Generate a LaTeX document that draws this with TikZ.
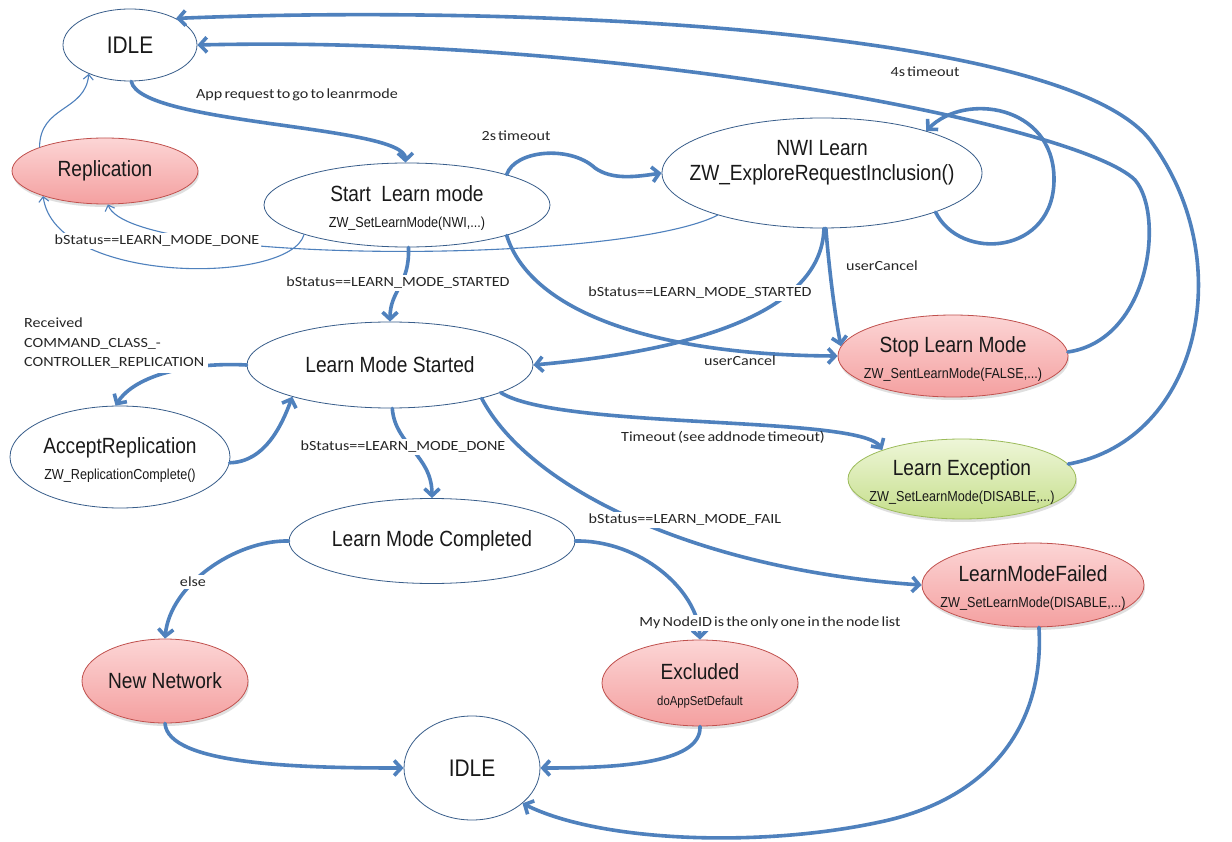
\documentclass[tikz,border=0pt]{standalone}
\usepackage{fontspec}
\setmainfont{Liberation Sans}
\newfontfamily\statefont[FakeStretch=0.87]{Liberation Sans}
\newfontfamily\labelfont[FakeStretch=1.15,WordSpace=0.6]{Carlito}
\usetikzlibrary{shapes.geometric,arrows.meta,shadows}

\definecolor{edgeblue}{HTML}{4F81BD}
\definecolor{rimblue}{HTML}{385D8A}
\definecolor{redtop}{HTML}{FCD5D5}
\definecolor{redbot}{HTML}{F4A0A0}
\definecolor{redrim}{HTML}{C0504D}
\definecolor{greentop}{HTML}{EEF6D8}
\definecolor{greenbot}{HTML}{C5DE8A}
\definecolor{greenrim}{HTML}{9BBB59}

\newcommand\subtxt[1]{{\fontsize{14.5}{16}\selectfont #1}}

\tikzset{
  state/.style={ellipse, draw=rimblue, line width=0.8pt, fill=white, inner sep=0pt},
  redstate/.style={state, draw=redrim, top color=redtop, bottom color=redbot,
    drop shadow={opacity=0.25, shadow xshift=1pt, shadow yshift=-3pt}},
  greenstate/.style={state, draw=greenrim, top color=greentop, bottom color=greenbot,
    drop shadow={opacity=0.25, shadow xshift=1pt, shadow yshift=-3pt}},
  ttl/.style={font=\statefont\fontsize{22}{25}\selectfont, align=center, inner sep=0pt, text=black!90},
  idlettl/.style={font=\statefont\fontsize{24}{26}\selectfont, inner sep=0pt, text=black!90},
  edge/.style={draw=edgeblue, line width=3.6pt, line cap=round,
    -{Straight Barb[length=7pt,width=15pt]}},
  thinedge/.style={draw=edgeblue, line width=1.1pt, line cap=round,
    -{Straight Barb[length=5pt,width=10pt]}},
  lbl/.style={font=\labelfont\fontsize{14}{19.5}\selectfont, inner sep=2pt, text=black!85},
  lblw/.style={lbl, fill=white},
}

\begin{document}
\begin{tikzpicture}[x=1pt,y=-1pt]
\fill[white] (0,0) rectangle (1232,842);
\useasboundingbox (0,0) rectangle (1232,842);

% states
\node[state, minimum width=134, minimum height=72,
  label={[idlettl]center:IDLE}] (idleA) at (130,45) {};
\node[redstate, minimum width=186, minimum height=66,
  label={[ttl]center:Replication}] (repl) at (105,171) {};
\node[state, minimum width=286, minimum height=84,
  label={[ttl,yshift=-3pt]center:{Start\ \ Learn mode\\[1pt]\subtxt{ZW\_SetLearnMode(NWI,...)}}}] (start) at (407,205) {};
\node[state, minimum width=320, minimum height=110,
  label={[ttl,yshift=10pt]center:{NWI Learn\\ZW\_ExploreRequestInclusion()}}] (nwi) at (822,173) {};
\node[state, minimum width=286, minimum height=86,
  label={[ttl]center:Learn Mode Started}] (lms) at (390,365) {};
\node[redstate, minimum width=230, minimum height=82,
  label={[ttl,yshift=-3pt]center:{Stop Learn Mode\\[1pt]\subtxt{ZW\_SentLearnMode(FALSE,...)}}}] (stop) at (953,356) {};
\node[greenstate, minimum width=228, minimum height=80,
  label={[ttl,yshift=-3pt]center:{Learn Exception\\[1pt]\subtxt{ZW\_SetLearnMode(DISABLE,...)}}}] (lexc) at (962,479) {};
\node[state, minimum width=220, minimum height=102,
  label={[ttl,yshift=-3pt]center:{AcceptReplication\\[1pt]\subtxt{ZW\_ReplicationComplete()}}}] (acc) at (120,457) {};
\node[state, minimum width=286, minimum height=85,
  label={[ttl]center:Learn Mode Completed}] (lmc) at (432,541) {};
\node[redstate, minimum width=222, minimum height=84,
  label={[ttl,yshift=-3pt]center:{LearnModeFailed\\[1pt]\subtxt{ZW\_SetLearnMode(DISABLE,...)}}}] (lmf) at (1033,585) {};
\node[redstate, minimum width=166, minimum height=84,
  label={[ttl]center:New Network}] (newnet) at (165,681) {};
\node[redstate, minimum width=196, minimum height=86,
  label={[ttl,yshift=-3pt]center:{Excluded\\[1pt]{\fontsize{13}{15}\selectfont doAppSetDefault}}}] (excl) at (700,683) {};
\node[state, minimum width=136, minimum height=104,
  label={[idlettl]center:IDLE}] (idleB) at (472,768) {};

% transitions
\draw[edge] (idleA.-88) .. controls (140,125) and (405,125) .. (start.92);
\draw[thinedge] (repl.160) .. controls (40,105) and (85,112) .. (idleA.-145);
\draw[thinedge] (start.196) .. controls (290,285) and (55,285) .. (repl.-158);
\draw[thinedge] (nwi.-158) .. controls (620,265) and (130,265) .. (repl.-85);
\draw[edge] (start.17) .. controls (515,150) and (570,145) .. (595,168)
  .. controls (612,180) and (635,177) .. (nwi.west);
\draw[edge] (start.-88) .. controls (410,285) and (390,290) .. (lms.north);
\draw[edge] (start.-17) .. controls (530,310) and (650,355) .. (stop.west);
\draw[edge] (nwi.-88) .. controls (822,310) and (700,350) .. (lms.east);
\draw[edge] (nwi.-86) .. controls (830,280) and (836,320) .. (stop.175);
\draw[edge] (nwi.-19) .. controls (960,262) and (1055,255) .. (1054,178)
  .. controls (1053,105) and (965,92) .. (nwi.22);
\draw[edge] (stop.2) .. controls (1150,340) and (1165,215) .. (1135,180)
  .. controls (1080,125) and (620,35) .. (idleA.east);
\draw[edge] (lexc.8) .. controls (1200,440) and (1240,260) .. (1150,140)
  .. controls (1060,25) and (500,5) .. (idleA.30);
\draw[edge] (lms.west) .. controls (190,362) and (135,375) .. (acc.95);
\draw[edge] (acc.-3) .. controls (265,462) and (282,425) .. (lms.198);
\draw[edge] (lms.-87) .. controls (395,445) and (432,455) .. (lmc.north);
\draw[edge] (lms.-14) .. controls (560,430) and (860,415) .. (lexc.160);
\draw[edge] (lms.-20) .. controls (530,490) and (700,570) .. (lmf.west);
\draw[edge] (lmc.west) .. controls (235,540) and (170,585) .. (newnet.north);
\draw[edge] (lmc.east) .. controls (640,540) and (698,590) .. (excl.north);
\draw[edge] (newnet.south) .. controls (168,765) and (300,768) .. (idleB.west);
\draw[edge] (excl.south) .. controls (702,765) and (610,768) .. (idleB.east);
\draw[edge] (lmf.-82) .. controls (1045,730) and (985,800) .. (880,822)
  .. controls (760,848) and (600,842) .. (idleB.-35);

% transition labels
\node[lbl] (tA) at (297,95) {App request to go to leanrmode};
\node[lbl] (tB) at (516,136) {2s timeout};
\node[lbl] (tC) at (925,72) {4s timeout};
\node[lblw] (tD) at (157,241) {bStatus==LEARN\_MODE\_DONE};
\node[lblw] (tE) at (398,283) {bStatus==LEARN\_MODE\_STARTED};
\node[lblw] (tF) at (700,293) {bStatus==LEARN\_MODE\_STARTED};
\node[lbl] (tG) at (882,266) {userCancel};
\node[lbl] (tH) at (740,361) {userCancel};
\node[lblw, align=left, anchor=north west, inner sep=4pt] (tI) at (20,314)
  {Received\\COMMAND\_CLASS\_-\\CONTROLLER\_REPLICATION};
\node[lbl] (tJ) at (723,437) {Timeout (see addnode timeout)};
\node[lblw] (tK) at (403,447) {bStatus==LEARN\_MODE\_DONE};
\node[lblw] (tL) at (685,520) {bStatus==LEARN\_MODE\_FAIL};
\node[lblw] (tM) at (193,582) {else};
\node[lblw] (tN) at (770,623) {My NodeID is the only one in the node list};
\end{tikzpicture}
\end{document}
